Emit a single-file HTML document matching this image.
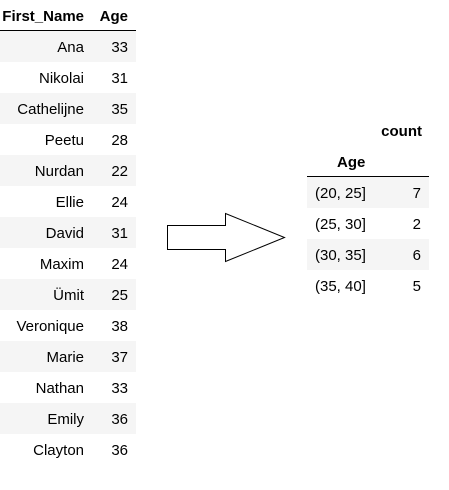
<!DOCTYPE html>
<html><head><meta charset="utf-8"><style>
body{margin:0;width:449px;height:490px;background:#fff;position:relative;font-family:"Liberation Sans",Arial,sans-serif;font-size:15px;color:#000;overflow:hidden}
.r{position:absolute;height:31px;line-height:33px}
.c{position:absolute;text-align:right;white-space:nowrap}
.h{font-weight:bold}
.g{background:#f5f5f5}
</style></head><body>
<div id="lt"></div>
<div id="rt"></div>
<svg style="position:absolute;left:0;top:0" width="449" height="490">
<polygon points="167.5,225.5 225.5,225.5 225.5,213.5 284.5,237.5 225.5,261.5 225.5,249.5 167.5,249.5" fill="#fff" stroke="#000" stroke-width="1"/>
</svg>
<script>
const names=["Ana","Nikolai","Cathelijne","Peetu","Nurdan","Ellie","David","Maxim","Ümit","Veronique","Marie","Nathan","Emily","Clayton"];
const ages=[33,31,35,28,22,24,31,24,25,38,37,33,36,36];
const bins=["(20, 25]","(25, 30]","(30, 35]","(35, 40]"];
const counts=[7,2,6,5];
const lt=document.getElementById('lt');
let h=document.createElement('div');h.className='r h';h.style.cssText='left:0;top:0;width:136px;border-bottom:1px solid #000;height:30px';


h.innerHTML='<span class="c" style="right:52px">First_Name</span><span class="c" style="right:8px">Age</span>';
lt.appendChild(h);
names.forEach((n,i)=>{const d=document.createElement('div');d.className='r'+(i%2==0?' g':'');d.style.cssText+=';left:0;top:'+(31+i*31)+'px;width:136px';


d.innerHTML='<span class="c" style="right:52px">'+n+'</span><span class="c" style="right:8px">'+ages[i]+'</span>';lt.appendChild(d);});
const rt=document.getElementById('rt');
let c=document.createElement('div');c.className='r h';c.style.cssText='left:307px;top:115px;width:122px';


c.innerHTML='<span class="c" style="right:7px">count</span>';rt.appendChild(c);
let a=document.createElement('div');a.className='r h';a.style.cssText='left:307px;top:146px;width:122px;height:30px;border-bottom:1px solid #000';


a.innerHTML='<span class="c" style="left:30px">Age</span>';rt.appendChild(a);
bins.forEach((b,i)=>{const d=document.createElement('div');d.className='r'+(i%2==0?' g':'');d.style.cssText+=';left:307px;top:'+(177+i*31)+'px;width:122px';


d.innerHTML='<span class="c" style="left:8px">'+b+'</span><span class="c" style="right:8px">'+counts[i]+'</span>';rt.appendChild(d);});
</script>
</body></html>
